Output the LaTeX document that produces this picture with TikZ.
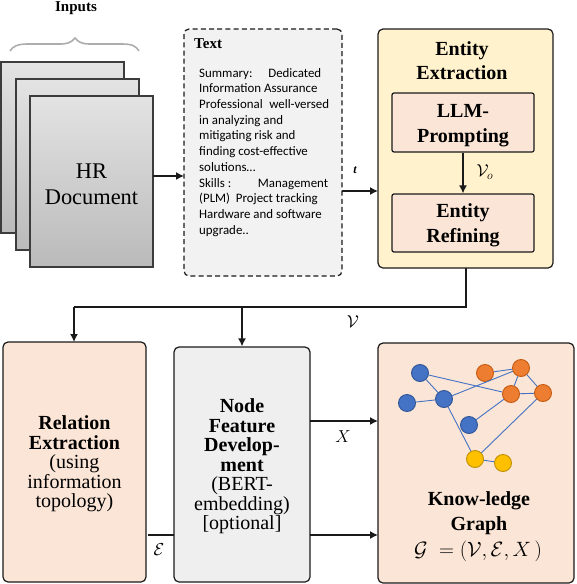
\documentclass[tikz,border=0pt]{standalone}
\usepackage[no-math]{fontspec}
\setmainfont{Liberation Serif}
\newfontfamily\bodyfont{Carlito}
\usetikzlibrary{arrows.meta,shadings}
\definecolor{peach}{HTML}{FBE5D6}
\definecolor{cream}{HTML}{FFF2CC}
\definecolor{panel}{HTML}{F2F2F2}
\definecolor{panelb}{HTML}{EFEFEF}
\definecolor{ink}{HTML}{1A1A1A}
\definecolor{bluen}{HTML}{4472C4}
\definecolor{bluel}{HTML}{2F5597}
\definecolor{orangen}{HTML}{ED7D31}
\definecolor{orangel}{HTML}{C55A11}
\definecolor{yellown}{HTML}{FFC000}
\definecolor{yellowl}{HTML}{BF9000}
\newcommand{\topstrut}[1]{\rule{0pt}{#1}}
\tikzset{
  x=1pt,y=-1pt,
  box/.style={draw=ink,line width=1.2pt,rounded corners=5pt,inner sep=0pt,align=center,text=black},
  docsheet/.style={draw=ink!85,line width=1.4pt,minimum width=123pt,minimum height=171pt,inner sep=0pt,
    top color=black!11,bottom color=black!27,shading angle=0},
  big/.style={font=\fontsize{20}{19.5}\selectfont},
  arr/.style={draw=ink,line width=1.4pt,-{Latex[length=8pt,width=8pt]}},
  plain/.style={draw=ink,line width=1.4pt},
  gedge/.style={draw=bluen,line width=0.9pt},
  gn/.style={circle,minimum size=17pt,inner sep=0pt,line width=0.9pt},
  bn/.style={gn,fill=bluen,draw=bluel},
  on/.style={gn,fill=orangen,draw=orangel},
  yn/.style={gn,fill=yellown,draw=yellowl},
  lab/.style={inner sep=0pt,font=\fontsize{17}{17}\selectfont},
}
\begin{document}
\begin{tikzpicture}
\useasboundingbox (0,0) rectangle (576,584);
% inputs
\node[inner sep=0pt,font=\fontsize{15}{15}\selectfont\bfseries] (inputs) at (76,8) {Inputs};
\draw[color=black!32!white,line width=1.6pt] (10,51) .. controls (13,46) and (18,44) .. (28,44)
  -- (60,44) .. controls (68,44) and (72,42) .. (75,38)
  .. controls (78,42) and (82,44) .. (90,44) -- (122,44) .. controls (132,44) and (136,46) .. (139,51);
\node[docsheet] (doca) at (62.5,147.5) {};
\node[docsheet] (docb) at (77.5,164.5) {};
\node[docsheet,align=center,font=\fontsize{22.4}{26}\selectfont] (docc) at (91.5,181.5) {\topstrut{21pt}HR\\Document};
% text
\node[box,fill=panel,dashed,dash pattern=on 5pt off 3.2pt,minimum width=158pt,minimum height=247pt] (text) at (263,152.5) {};
\node[inner sep=0pt,anchor=west,font=\fontsize{15}{15}\selectfont\bfseries] (texttitle) at (194,44) {Text};
\node[inner sep=0pt,anchor=north west,align=left,font=\bodyfont\fontsize{12.9}{15.7}\selectfont] (textbody) at (199,68) {%
\hbox to 122pt{Summary:\hfill Dedicated}\\
Information Assurance\\
\hbox to 130pt{Professional\hfill well-versed}\\
in analyzing and\\
mitigating risk and\\
finding cost-effective\\
solutions\dots\\
\hbox to 129pt{Skills :\hfill Management}\\
(PLM)\ \ Project tracking\\
Hardware and software\\
upgrade..};
% entity extraction
\node[box,fill=cream,minimum width=175pt,minimum height=239pt] (entity) at (465.5,148.5) {};
\node[inner sep=0pt,big,align=center,font=\fontsize{20}{24}\selectfont\bfseries] (entitytitle) at (462,61) {Entity\\Extraction};
\node[box,fill=peach,rounded corners=2pt,minimum width=142pt,minimum height=59pt,font=\fontsize{20}{25}\selectfont\bfseries] (llm) at (463,122.5) {\topstrut{19pt}LLM-\\Prompting};
\node[box,fill=peach,rounded corners=2pt,minimum width=142pt,minimum height=58pt,font=\fontsize{20}{25}\selectfont\bfseries] (refine) at (463,223) {\topstrut{19pt}Entity\\Refining};
\node[lab] (vo) at (485,172) {$\mathcal{V}_{o}$};
% lower row
\node[box,fill=peach,big,minimum width=143pt,minimum height=240pt] (rel) at (74.5,462) {\topstrut{18pt}\textbf{Relation}\\\textbf{Extraction}\\(using\\information\\topology)};
\node[box,fill=panelb,big,minimum width=136pt,minimum height=235pt] (feat) at (242,464.5) {\topstrut{18pt}\textbf{Node}\\\textbf{Feature}\\\textbf{Develop-}\\\textbf{ment}\\(BERT-\\embedding)\\{[optional]}};
\node[box,fill=peach,minimum width=196pt,minimum height=240pt] (kg) at (476,463) {};
\node[inner sep=0pt,align=center,font=\fontsize{20}{24.5}\selectfont\bfseries] (kgtitle) at (479,513) {Know-ledge\\Graph};
\node[inner sep=0pt,font=\fontsize{20}{20}\selectfont] (kgformula) at (478,551) {$\mathcal{G}\;=(\mathcal{V},\mathcal{E},X\,)$};
% graph
\node[bn] (b1) at (420,373) {};
\node[bn] (b2) at (407,403) {};
\node[bn] (b3) at (444,399) {};
\node[bn] (b4) at (469,425) {};
\node[on] (o1) at (485,373) {};
\node[on] (o2) at (521,368) {};
\node[on] (o3) at (511,394) {};
\node[on] (o4) at (543,393) {};
\node[yn] (y1) at (475,459) {};
\node[yn] (y2) at (503,463) {};
\draw[gedge] (b1)--(b3) (b2)--(b3) (b1)--(o3) (b3)--(o2) (b3)--(y1) (b4)--(o3)
  (o1)--(o2) (o2)--(o3) (o2)--(o4) (o3)--(o4) (o4)--(y1) (y1)--(y2);
% connectors
\coordinate (docout) at (153,176);
\coordinate (textin) at (184,176);
\draw[arr] (docout) -- (textin);
\coordinate (textout) at (342,191);
\coordinate (entityin) at (378,191);
\draw[arr] (textout) -- (entityin);
\node[inner sep=0pt,font=\fontsize{12}{12}\selectfont\bfseries\itshape] (tlabel) at (355,170) {t};
\draw[arr] (llm.south) -- (refine.north);
\coordinate (eout) at (466,268);
\coordinate (turn1) at (466,307);
\coordinate (turn2) at (74,307);
\coordinate (relin) at (74,342);
\coordinate (branch) at (242,307);
\draw[plain] (eout) -- (turn1) -- (turn2);
\draw[arr] (turn2) -- (relin);
\draw[arr] (branch) -- (feat.north);
\node[lab] (vlabel) at (353,322) {$\mathcal{V}$};
\coordinate (fx) at (310,421);
\coordinate (kx) at (378,421);
\draw[arr] (fx) -- (kx);
\node[lab] (xlabel) at (343,437) {$X$};
\coordinate (re) at (148,535);
\coordinate (fe) at (174,535);
\coordinate (fe2) at (310,535);
\coordinate (ke) at (378,535);
\draw[plain] (re) -- (fe);
\draw[arr] (fe2) -- (ke);
\node[lab] (elabel) at (159,550) {$\mathcal{E}$};
\end{tikzpicture}
\end{document}
